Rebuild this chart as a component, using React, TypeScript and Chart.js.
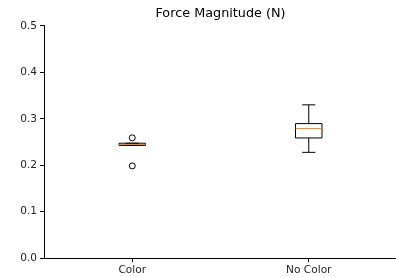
import React, { useEffect, useRef } from "react";
import { Chart, registerables } from "chart.js";

Chart.register(...registerables);

const categories = ["Color", "No Color"];
const positions = [1, 2];
const whiskerLow = [0.2426, 0.2277];
const q1 = [0.2426, 0.2587];
const median = [0.2447, 0.2788];
const q3 = [0.2473, 0.2896];
const whiskerHigh = [0.2473, 0.330];
const outliers = [[0.259, 0.1985], []];
const yTicks = [0, 0.1, 0.2, 0.3, 0.4, 0.5];
const title = "Force Magnitude (N)";

const FONT = "'DejaVu Sans', sans-serif";
const BOX_WIDTH = 0.15;

const boxPlugin = {
  id: "boxes",
  afterDatasetsDraw(chart: any) {
    const { ctx, scales } = chart;
    const xs = scales.x;
    const ys = scales.y;
    ctx.save();
    positions.forEach((p, i) => {
      const xl = xs.getPixelForValue(p - BOX_WIDTH / 2);
      const xr = xs.getPixelForValue(p + BOX_WIDTH / 2);
      const xc = xs.getPixelForValue(p);
      const cl = xs.getPixelForValue(p - BOX_WIDTH / 4);
      const cr = xs.getPixelForValue(p + BOX_WIDTH / 4);
      const yq1 = ys.getPixelForValue(q1[i]);
      const yq3 = ys.getPixelForValue(q3[i]);
      const ylo = ys.getPixelForValue(whiskerLow[i]);
      const yhi = ys.getPixelForValue(whiskerHigh[i]);
      const ymed = ys.getPixelForValue(median[i]);
      ctx.strokeStyle = "#000";
      ctx.lineWidth = 1;
      ctx.beginPath();
      ctx.moveTo(xc, yq1);
      ctx.lineTo(xc, ylo);
      ctx.moveTo(xc, yq3);
      ctx.lineTo(xc, yhi);
      ctx.moveTo(cl, ylo);
      ctx.lineTo(cr, ylo);
      ctx.moveTo(cl, yhi);
      ctx.lineTo(cr, yhi);
      ctx.stroke();
      ctx.beginPath();
      ctx.rect(xl, yq3, xr - xl, yq1 - yq3);
      ctx.stroke();
      ctx.strokeStyle = "#ff7f0e";
      ctx.beginPath();
      ctx.moveTo(xl, ymed);
      ctx.lineTo(xr, ymed);
      ctx.stroke();
    });
    ctx.restore();
  },
};

export default function App() {
  const ref = useRef<HTMLCanvasElement>(null);
  useEffect(() => {
    document.body.style.margin = "0";
    const data: { x: number; y: number }[] = [];
    outliers.forEach((arr, i) => arr.forEach((v) => data.push({ x: positions[i], y: v })));
    const chart = new Chart(ref.current!, {
      type: "scatter",
      data: {
        datasets: [
          {
            data,
            pointRadius: 3,
            pointBorderWidth: 1,
            pointBackgroundColor: "rgba(0,0,0,0)",
            pointBorderColor: "#000",
          },
        ],
      },
      options: {
        responsive: false,
        animation: false,
        layout: { padding: 0 },
        plugins: {
          legend: { display: false },
          tooltip: { enabled: false },
          title: {
            display: true,
            fullSize: false,
            text: title,
            color: "#000",
            font: { family: FONT, size: 12.8, weight: "normal", lineHeight: 1.2 },
            padding: { top: 5.5, bottom: 5.1 },
          },
        },
        scales: {
          x: {
            type: "linear",
            min: 0.5,
            max: 2.5,
            afterBuildTicks: (s: any) => {
              s.ticks = positions.map((v) => ({ value: v }));
            },
            afterFit: (s: any) => {
              s.height = 19;
            },
            ticks: {
              autoSkip: false,
              maxRotation: 0,
              padding: 2,
              color: "#262626",
              font: { family: FONT, size: 10.6 },
              callback: (v: any) => {
                const i = positions.indexOf(Number(v));
                return i >= 0 ? categories[i] : "";
              },
            },
            grid: { drawOnChartArea: false, drawTicks: true, tickLength: 4, color: "#000" },
            border: { display: true, color: "#000", width: 1 },
          },
          y: {
            type: "linear",
            min: 0,
            max: 0.5,
            afterBuildTicks: (s: any) => {
              s.ticks = yTicks.map((v) => ({ value: v }));
            },
            afterFit: (s: any) => {
              s.width = 44;
            },
            ticks: {
              padding: 3,
              color: "#262626",
              font: { family: FONT, size: 10.6 },
              callback: (v: any) => Number(v).toFixed(1),
            },
            grid: { drawOnChartArea: false, drawTicks: true, tickLength: 4, color: "#000" },
            border: { display: true, color: "#000", width: 1 },
          },
        },
      },
      plugins: [boxPlugin],
    } as any);
    return () => chart.destroy();
  }, []);
  return (
    <div style={{ width: 396, height: 277, overflow: "hidden", position: "relative" }}>
      <canvas ref={ref} width={402} height={277} style={{ display: "block", width: 402, height: 277 }} />
    </div>
  );
}
